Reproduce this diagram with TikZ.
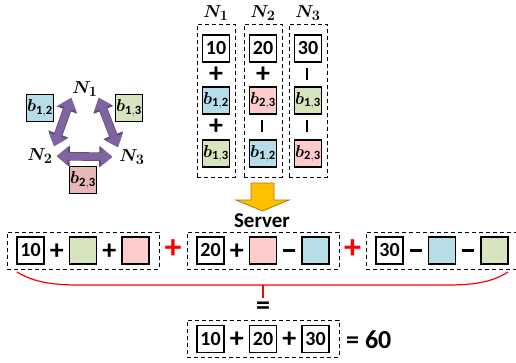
\documentclass[tikz,border=0pt]{standalone}
\usepackage{fontspec}
\setmainfont{Carlito}
\usepackage{bm}
\usetikzlibrary{arrows.meta}
\definecolor{keyblue}{HTML}{B7DEE8}
\definecolor{keygreen}{HTML}{D7E4BD}
\definecolor{keypink}{HTML}{FFCCCC}
\definecolor{keyrose}{HTML}{E6B9B8}
\definecolor{keypurple}{HTML}{8064A2}
\definecolor{purpledark}{HTML}{5F4A7A}
\definecolor{gold}{HTML}{FFC000}
\definecolor{golddark}{HTML}{B07800}
\newcommand{\hminus}{\vphantom{+}\rule[0.27em]{0.44em}{0.095em}}
\newcommand{\vminus}{\rotatebox[origin=c]{90}{\hminus}}
\newcommand{\keyb}[1]{$\bm{b}_{\mathbf{#1}}$}
\tikzset{
  valbox/.style={draw, line width=1.5pt, minimum size=27pt, inner sep=0pt,
    font=\bfseries\fontsize{20}{20}\selectfont},
  keybox/.style={valbox, fill=#1, font=\fontsize{18}{18}\selectfont},
  group/.style={draw, line width=1pt, dash pattern=on 4pt off 3pt},
  op/.style={inner sep=0pt, font=\bfseries\fontsize{28}{28}\selectfont},
  redop/.style={op, text=red, font=\bfseries\fontsize{34}{34}\selectfont},
  nlabel/.style={inner sep=1pt, font=\fontsize{19}{19}\selectfont},
  duplex/.style={draw=keypurple, line width=7pt,
    {Triangle[width=18pt,length=11pt]}-{Triangle[width=18pt,length=11pt]}},
  duplexrim/.style={draw=purpledark, line width=8.6pt,
    {Triangle[width=20.5pt,length=13pt]}-{Triangle[width=20.5pt,length=13pt]}},
}
\begin{document}
\begin{tikzpicture}[x=1pt, y=-1pt]%
  \clip (0,0) rectangle (516,362);
  \pgfmathsetmacro{\step}{52.5}
  \pgfmathsetmacro{\half}{26.25}

  % Key exchange between the nodes.
  \node[nlabel] (n1) at (85,89) {$\bm{N_1}$};
  \node[nlabel] (n2) at (40,156) {$\bm{N_2}$};
  \node[nlabel] (n3) at (132,157) {$\bm{N_3}$};
  \node[keybox=keyblue] (k12) at (40,108) {\keyb{1,2}};
  \node[keybox=keygreen] (k13) at (129,108) {\keyb{1,3}};
  \node[keybox=keyrose] (k23) at (83,180) {\keyb{2,3}};
  \foreach \s in {duplexrim,duplex} {
    \draw[\s, shorten <=0pt, shorten >=1pt] (n1.south west) -- (n2.north east);
    \draw[\s, shorten <=0pt, shorten >=1pt] (n1.south east) -- (n3.north west);
    \draw[\s, shorten <=3pt, shorten >=6pt] (n2.east) -- (n3.west);
  }

  % Masked inputs of each node.
  \foreach \i/\x/\v/\opa/\fa/\sa/\opb/\fb/\sb in {
    1/216/10/+/keyblue/{1,2}/+/keygreen/{1,3},
    2/263/20/+/keypink/{2,3}/\vminus/keyblue/{1,2},
    3/308/30/\vminus/keygreen/{1,3}/\vminus/keypink/{2,3}}
  {
    \node[group, minimum width=38pt, minimum height=153pt] (col\i) at (\x,100.5) {};
    \node[nlabel] (lab\i) at (\x,13) {$\bm{N_{\i}}$};
    \node[valbox] (val\i) at (\x,48.5) {\v};
    \node[op] (opa\i) at (\x,74.5) {\opa};
    \node[keybox=\fa] (ka\i) at (\x,100.5) {\keyb{\sa}};
    \node[op] (opb\i) at (\x,127) {\opb};
    \node[keybox=\fb] (kb\i) at (\x,153.5) {\keyb{\sb}};
  }

  % Upload to the server.
  \draw[fill=gold, draw=golddark, line width=0.8pt] (251,183) -- (274,183) -- (274,200)
    -- (289,200) -- (262.5,211) -- (236,200) -- (251,200) -- cycle;
  \node[inner sep=0pt, font=\bfseries\fontsize{21}{21}\selectfont] (server) at (262,221) {Server};

  % Sum at the server
  \foreach \g/\x/\v/\opa/\fa/\opb/\fb in {
    1/83/10/+/keygreen/+/keypink,
    2/263/20/+/keypink/\hminus/keyblue,
    3/442/30/\hminus/keyblue/\hminus/keygreen}
  {
    \node[group, minimum width=152pt, minimum height=37pt] (sum\g) at (\x,250.5) {};
    \node[valbox] (sval\g) at (\x-\step,250.5) {\v};
    \node[op] (sopa\g) at (\x-\half,251.5) {\opa};
    \node[keybox=\fa] (ska\g) at (\x,250.5) {};
    \node[op] (sopb\g) at (\x+\half,251.5) {\opb};
    \node[keybox=\fb] (skb\g) at (\x+\step,250.5) {};
  }
  \node[redop] (radd1) at (173,249) {+};
  \node[redop] (radd2) at (352.5,249) {+};

  % Keys cancel out.
  \coordinate (bl) at (17,272);
  \coordinate (br) at (508,272);
  \coordinate (bmid) at (263,285);
  \coordinate (btip) at (263,298);
  \draw[red, line width=1.2pt] (bl) .. controls (35,283) and (55,285) .. (80,285)
    -- (446,285) .. controls (471,285) and (491,283) .. (br);
  \draw[red, line width=1.2pt] (bmid) -- (btip);
  \node[op] (eq) at (263,308) {=};

  % Result.
  \node[group, minimum width=152pt, minimum height=37pt] (total) at (263,338.5) {};
  \node[valbox] (tval1) at (263-\step,339) {10};
  \node[op] (tadd1) at (263-\half,339.5) {+};
  \node[valbox] (tval2) at (263,339) {20};
  \node[op] (tadd2) at (263+\half,339.5) {+};
  \node[valbox] (tval3) at (263+\step,339) {30};
  \node[op, anchor=west, font=\bfseries\fontsize{26}{26}\selectfont] (result) at (346,339.5) {= 60};
\end{tikzpicture}
\end{document}
